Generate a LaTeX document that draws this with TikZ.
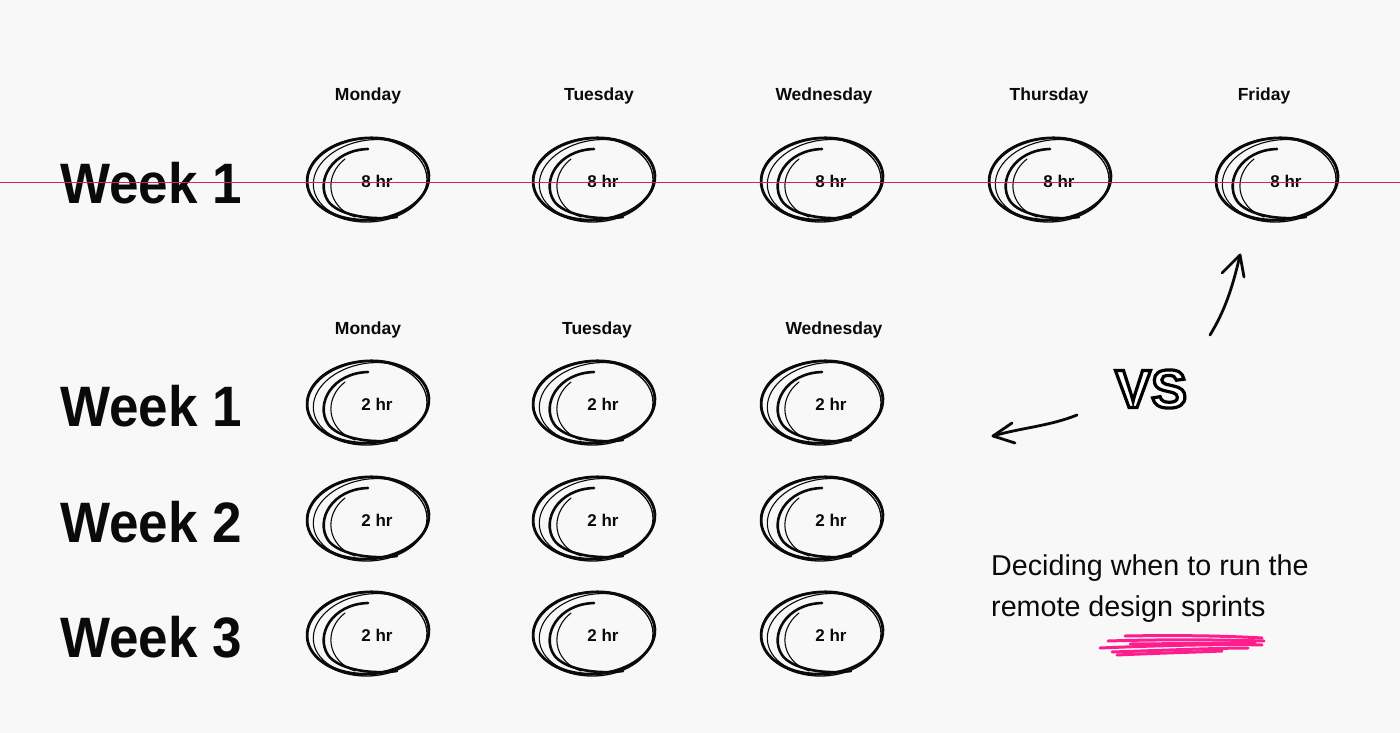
\documentclass[tikz,border=0pt]{standalone}
\usepackage{fontspec}
\setmainfont{Liberation Sans}
\usetikzlibrary{arrows.meta}
\definecolor{bg}{HTML}{F8F8F8}
\definecolor{strike}{HTML}{D61F6F}
\definecolor{hot}{HTML}{FF1C8D}
\definecolor{ink}{HTML}{0A0A0A}
\tikzset{
  daylbl/.style={font=\fontsize{17.5}{17.5}\selectfont\bfseries, text=ink},
  hrlbl/.style={font=\fontsize{17}{17}\selectfont\bfseries, text=ink},
  weeklbl/.style={anchor=base west, inner sep=0pt, text=ink},
  pen/.style={draw=ink, line cap=round, line join=round},
  scrib/.pic={
    \draw[pen, line width=2.8] (-9,-2) ellipse [x radius=61, y radius=41, rotate=4];
    \draw[pen, line width=1.1] (-6,-1) ellipse [x radius=58, y radius=40, rotate=8];
    \draw[pen, line width=1.3] (-10,-1) ellipse [x radius=60, y radius=42, rotate=1];
    \draw[pen, line width=2.6] (-9,-32) .. controls (-45,-31) and (-62,0) .. (-49,20) .. controls (-40,33) and (-10,40) .. (20,36);
    \draw[pen, line width=1.1] (-32,-22) .. controls (-54,-5) and (-50,26) .. (-22,36);
  },
  arr/.style={pen, line width=2.8},
}
\newcommand{\weektxt}[1]{\scalebox{0.93}[1]{\fontsize{57}{57}\selectfont\bfseries #1}}
\begin{document}
\begin{tikzpicture}[x=1pt,y=-1pt]
\fill[bg] (0,0) rectangle (1400,733);
\useasboundingbox (0,0) rectangle (1400,733);

% ---- top block: Week 1, 8 hr each day
\node[weeklbl] (wA) at (60,203) {\weektxt{Week 1}};
\foreach \x/\d/\n in {368/Monday/1, 599/Tuesday/2, 824/Wednesday/3, 1049/Thursday/4, 1264/Friday/5}{
  \node[daylbl] (dA\n) at (\x,96) {\d};
}
\foreach \x/\n in {377/1, 603/2, 831/3, 1059/4, 1286/5}{
  \pic at (\x,181) {scrib};
  \node[hrlbl] (hA\n) at (\x,181) {8 hr};
}
\draw[strike, line width=1.8] (0,182.5) -- (1400,182.5);

% ---- bottom block: 3 weeks, 2 hr
\foreach \x/\d/\n in {368/Monday/1, 597/Tuesday/2, 834/Wednesday/3}{
  \node[daylbl] (dB\n) at (\x,330) {\d};
}
\node[weeklbl] (wB1) at (60,426) {\weektxt{Week 1}};
\node[weeklbl] (wB2) at (60,542) {\weektxt{Week 2}};
\node[weeklbl] (wB3) at (60,657) {\weektxt{Week 3}};
\foreach \y/\r in {404/1, 520/2, 635/3}{
  \foreach \x/\n in {377/1, 603/2, 831/3}{
    \pic at (\x,\y) {scrib};
    \node[hrlbl] (h\r\n) at (\x,\y) {2 hr};
  }
}

% ---- VS (outlined letters)
\node[text=ink, font=\fontsize{54}{54}\selectfont\bfseries] (vs) at (1151,389)
  {\special{pdf:literal direct 2 Tr 3.2 w 1 g 0 G}VS\special{pdf:literal direct 0 Tr}};

% arrows
\coordinate (upS) at (1210,335);
\coordinate (upE) at (1240,255);
\draw[arr] (upS) .. controls (1224,312) and (1232,290) .. (upE);
\draw[arr] (1222,273) -- (upE) -- (1244,277);
\coordinate (lfS) at (1077,415);
\coordinate (lfE) at (993,436);
\draw[arr] (lfS) .. controls (1050,426) and (1020,428) .. (lfE);
\draw[arr] (1012,423) -- (lfE) -- (1015,443);

% caption
\node[anchor=base west, inner sep=0pt, align=left, text=ink,
      font=\fontsize{28.7}{41}\selectfont] (cap) at (991,616)
  {Deciding when to run the\\remote design sprints};

% pink scribble
\begin{scope}[draw=hot, line width=3, line cap=round]
\draw (1125,636) .. controls (1180,635) and (1230,636) .. (1262,638);
\draw (1108,641) .. controls (1170,639) and (1230,640) .. (1264,641);
\draw (1100,648) .. controls (1170,645) and (1230,644) .. (1262,645);
\draw (1112,652) .. controls (1170,650) and (1220,648) .. (1248,648);
\draw (1117,655) .. controls (1160,653) and (1200,652) .. (1222,651);
\draw (1130,644) -- (1255,643);
\end{scope}
\end{tikzpicture}
\end{document}
